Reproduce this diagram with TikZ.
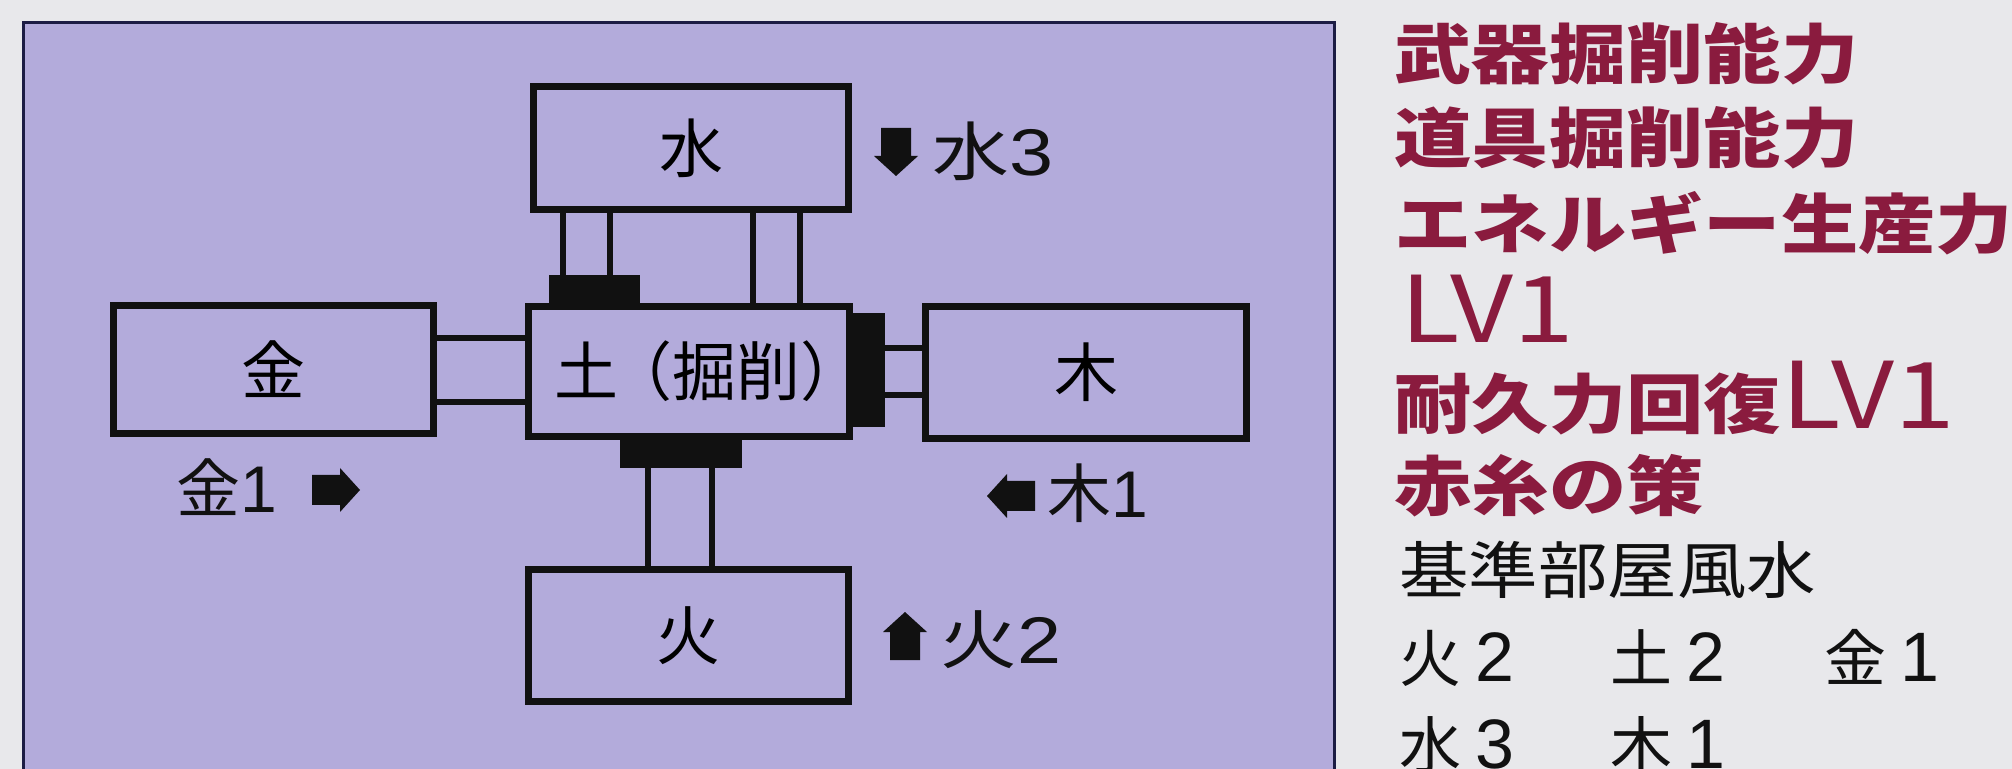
\documentclass[tikz,border=0pt]{standalone}
\usepackage{fontspec}
\usetikzlibrary{calc}
\newfontfamily\jp{Noto Sans CJK JP}
\newfontfamily\lat{Liberation Sans}
\definecolor{bgc}{HTML}{E8E8EB}
\definecolor{panel}{HTML}{B3ABDB}
\definecolor{navy}{HTML}{1C1C44}
\definecolor{redt}{HTML}{8A1B3E}
\definecolor{ink}{HTML}{111111}
\newcommand\dg[1]{{\lat\fontsize{33}{33}\selectfont #1}}
\newcommand\dgb[1]{{\lat\fontsize{35}{35}\selectfont #1}}
\newcommand\wide[1]{\scalebox{1.19}[1]{#1}}
\tikzset{
  box/.style={draw=ink, line width=3.5pt, inner sep=0pt, font=\jp\fontsize{32}{32}\selectfont},
  blk/.style={fill=ink, inner sep=0pt},
  conn/.style={draw=ink, line width=3.3pt},
  lbl/.style={anchor=base west, inner sep=0pt, text=ink, font=\jp\fontsize{32}{32}\selectfont},
  rt/.style={anchor=base west, inner sep=0pt, text=redt, font=\jp\bfseries\fontsize{32.5}{32.5}\selectfont},
  bt/.style={anchor=base west, inner sep=0pt, text=ink, font=\jp\fontsize{31}{31}\selectfont},
  barrow/.pic={\fill[ink] (-24,-15) -- (4,-15) -- (4,-22) -- (24,0) -- (4,22) -- (4,15) -- (-24,15) -- cycle;}
}
\begin{document}
\begin{tikzpicture}[x=0.5pt,y=-0.5pt]
\useasboundingbox (0,0) rectangle (2012,769);
\fill[bgc] (0,0) rectangle (2012,769);
\draw[fill=panel, draw=navy, line width=1.5pt] (23,23) rectangle (1334,800);

% boxes
\node[box, minimum width=157.5pt, minimum height=61.5pt] (sui) at (691,148) {水};
\node[box, minimum width=160.5pt, minimum height=65pt] (do) at (689,371.5) {土\kern-5pt（掘削）\kern-20pt};
\node[box, minimum width=160pt, minimum height=64pt] (kin) at (273.5,369.5) {金};
\node[box, minimum width=160.5pt, minimum height=66pt] (moku) at (1086,372.5) {木};
\node[box, minimum width=160pt, minimum height=66pt] (ka) at (688.5,635.5) {火};

% black blocks
\node[blk, minimum width=45.5pt, minimum height=15pt] (tb) at (594.5,290) {};
\node[blk, minimum width=17.5pt, minimum height=57pt] (rb) at (867.5,370) {};
\node[blk, minimum width=61pt, minimum height=15.5pt] (bb) at (681,452.5) {};

% connectors
\coordinate (a1) at ($(sui.south west)+(33,0)$);
\coordinate (a2) at ($(sui.south west)+(80,0)$);
\coordinate (a3) at ($(sui.south west)+(223,0)$);
\coordinate (a4) at ($(sui.south west)+(270,0)$);
\draw[conn] (a1) -- (a1 |- tb.north);
\draw[conn] (a2) -- (a2 |- tb.north);
\draw[conn] (a3) -- (a3 |- do.north);
\draw[conn] (a4) -- (a4 |- do.north);
\coordinate (b1) at ($(kin.north east)+(0,36)$);
\coordinate (b2) at ($(kin.north east)+(0,100)$);
\draw[conn] (b1) -- (b1 -| do.west);
\draw[conn] (b2) -- (b2 -| do.west);
\coordinate (c1) at ($(moku.north west)+(0,45)$);
\coordinate (c2) at ($(moku.north west)+(0,92)$);
\draw[conn] (c1) -- (c1 -| rb.east);
\draw[conn] (c2) -- (c2 -| rb.east);
\coordinate (d1) at ($(ka.north west)+(123,0)$);
\coordinate (d2) at ($(ka.north west)+(187,0)$);
\draw[conn] (d1) -- (d1 |- bb.south);
\draw[conn] (d2) -- (d2 |- bb.south);

% outside labels with arrows
\node[lbl] (lkin) at (176,513) {金\dg{1}};
\pic at (336,490) {barrow};
\node[lbl] (lsui) at (932,176) {\scalebox{1.2}[1]{水\dg{3}}};
\pic[rotate=-90] at (896,152) {barrow};
\node[lbl] (lmoku) at (1047,517) {木\dg{1}};
\pic[rotate=180] at (1011,496) {barrow};
\node[lbl] (lka) at (940,663) {\scalebox{1.2}[1]{火\dg{2}}};
\pic[rotate=90] at (905,636) {barrow};

% right column
\node[rt] (r1) at (1394,79) {\wide{武器掘削能力}};
\node[rt] (r2) at (1394,163) {\wide{道具掘削能力}};
\node[rt] (r3) at (1394,249) {\wide{エネルギー生産力}};
\node[rt] (r4) at (1400,343) {\wide{\mdseries\fontsize{46}{46}\selectfont LV1}};
\node[rt] (r5) at (1394,429) {\wide{耐久力回復{\mdseries\fontsize{46}{46}\selectfont LV1}}};
\node[rt] (r6) at (1394,511) {\wide{赤糸の策}};
\node[bt] (b0) at (1399,593) {\scalebox{1.12}[1]{基準部屋風水}};
\node[bt] (f1) at (1399,681) {火\kern7pt\dgb{2}};
\node[bt] (f2) at (1610,681) {土\kern7pt\dgb{2}};
\node[bt] (f3) at (1824,681) {金\kern7pt\dgb{1}};
\node[bt] (f4) at (1399,768) {水\kern7pt\dgb{3}};
\node[bt] (f5) at (1610,768) {木\kern7pt\dgb{1}};
\end{tikzpicture}
\end{document}
